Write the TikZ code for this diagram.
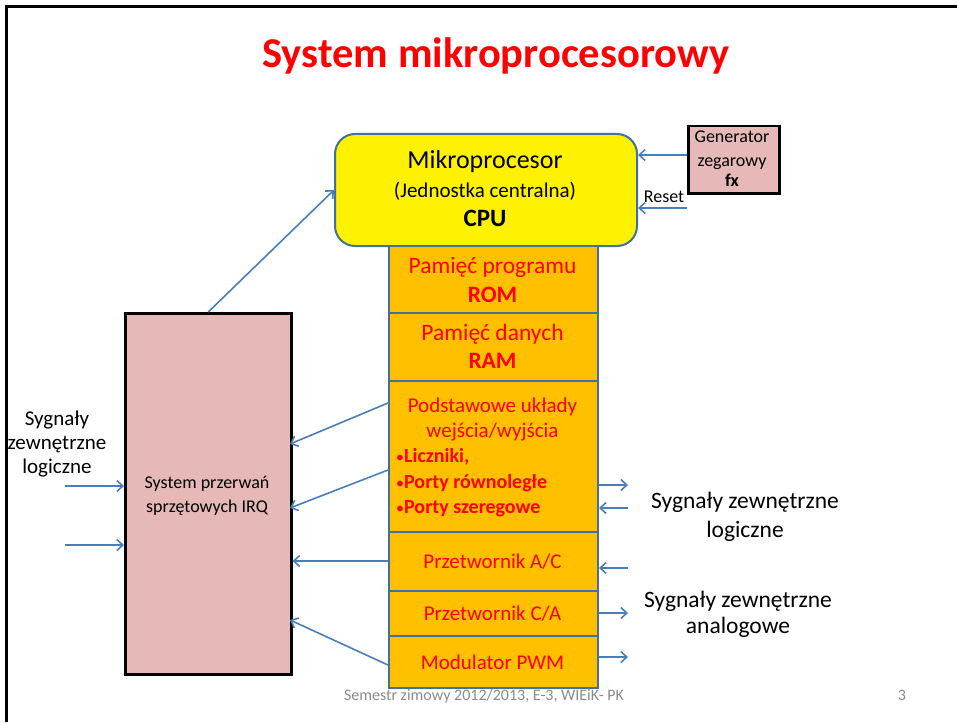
\documentclass[tikz,border=0pt]{standalone}
\usepackage{fontspec}
\setmainfont{Carlito}
\usetikzlibrary{arrows.meta}
\definecolor{orangebox}{HTML}{FFC000}
\definecolor{pinkbox}{HTML}{E6B9B8}
\definecolor{edgeblue}{HTML}{41719C}
\definecolor{arrblue}{HTML}{4A7EBB}
\definecolor{footgray}{HTML}{8B8B8B}
\newcommand{\fs}[1]{\fontsize{#1}{#1}\selectfont}
\begin{document}
\begin{tikzpicture}[x=1pt,y=-1pt,
  arr/.style={draw=arrblue, line width=1.6pt, -{Straight Barb[length=6pt,width=11pt]}},
  colbox/.style={draw=edgeblue, fill=orangebox, line width=2pt, anchor=north west, inner sep=0pt, minimum width=209pt},
  pinkbox/.style={draw=black, fill=pinkbox, line width=2.5pt, anchor=north west, inner sep=0pt},
  txt/.style={anchor=base, inner sep=0pt, align=center},
  redtxt/.style={txt, text=red},
]
\useasboundingbox (0,0) rectangle (957,722);
\fill[white] (0,0) rectangle (957,722);
% frame
\draw[line width=2.5pt] (6.3,722) -- (6.3,6.3) -- (957,6.3);

% title
\node[txt, text=red, font=\fs{42.5}\bfseries] (title) at (496,68) {System mikroprocesorowy};

% CPU
\node[draw=edgeblue, fill=yellow, line width=2pt, rounded corners=20pt, anchor=north west, inner sep=0pt,
      minimum width=302pt, minimum height=112pt] (cpu) at (334,133) {};
\node[txt, font=\fs{26}] (cpu1) at (485,168) {Mikroprocesor};
\node[txt, font=\fs{21}] (cpu2) at (485,197) {(Jednostka centralna)};
\node[txt, font=\fs{25}\bfseries] (cpu3) at (485,226) {CPU};

% column
\node[colbox, minimum height=67pt] (rom) at (388,245) {};
\node[colbox, minimum height=68pt] (ram) at (388,312) {};
\node[colbox, minimum height=151pt] (io) at (388,380) {};
\node[colbox, minimum height=59pt] (ac) at (388,531) {};
\node[colbox, minimum height=45pt] (ca) at (388,590) {};
\node[colbox, minimum height=52pt] (pwm) at (388,635) {};

\node[redtxt, font=\fs{23.5}] (rom1) at (492.5,273) {Pamięć programu};
\node[redtxt, font=\fs{23.5}\bfseries] (rom2) at (492.5,302) {ROM};
\node[redtxt, font=\fs{23.5}] (ram1) at (492.5,340) {Pamięć danych};
\node[redtxt, font=\fs{23.5}\bfseries] (ram2) at (492.5,368) {RAM};
\node[redtxt, font=\fs{21}] (io1) at (492.5,412) {Podstawowe układy};
\node[redtxt, font=\fs{21}] (io2) at (492.5,437) {wejścia/wyjścia};
\node[redtxt, anchor=base west, font=\fs{20}] (io3) at (396,462) {{\fs{16}•}\textbf{Liczniki,}};
\node[redtxt, anchor=base west, font=\fs{20}] (io4) at (396,488) {{\fs{16}•}\textbf{Porty równoległe}};
\node[redtxt, anchor=base west, font=\fs{20}] (io5) at (396,513) {{\fs{16}•}\textbf{Porty szeregowe}};
\node[redtxt, font=\fs{21}] (act) at (492.5,568) {Przetwornik A/C};
\node[redtxt, font=\fs{21}] (cat) at (492.5,620) {Przetwornik C/A};
\node[redtxt, font=\fs{21}] (pwmt) at (492.5,669) {Modulator PWM};

% generator
\node[pinkbox, minimum width=91pt, minimum height=67pt] (gen) at (687,125) {};
\node[txt, font=\fs{18}] (gen1) at (732,143) {Generator};
\node[txt, font=\fs{18}] (gen2) at (732,167) {zegarowy};
\node[txt, font=\fs{18}\bfseries] (gen3) at (732,186) {fx};
\coordinate (clk) at (687,155);
\coordinate (rst) at (687,208);
\draw[arr] (clk) -- (clk -| cpu.east);
\draw[arr] (rst) -- (rst -| cpu.east);
\node[txt, font=\fs{18}] (reset) at (664,202) {Reset};

% IRQ
\node[pinkbox, minimum width=166pt, minimum height=361pt] (irq) at (124,312) {};
\node[txt, font=\fs{18}] (irq1) at (207,488) {System przerwań};
\node[txt, font=\fs{18}] (irq2) at (207,512) {sprzętowych IRQ};
\draw[arr] (irq.north) -- (cpu.west);

% left signals
\node[txt, font=\fs{21}] (l1) at (57,425) {Sygnały};
\node[txt, font=\fs{21}] (l2) at (57,449) {zewnętrzne};
\node[txt, font=\fs{21}] (l3) at (57,473) {logiczne};
\coordinate (in1) at (65,486);
\coordinate (in2) at (65,545);
\draw[arr] (in1) -- (in1 -| irq.west);
\draw[arr] (in2) -- (in2 -| irq.west);

% column -> IRQ
\coordinate (ioa) at (388,403);
\coordinate (iob) at (388,470);
\coordinate (aca) at (388,561);
\coordinate (pwma) at (388,665);
\coordinate (irqa) at (290,444);
\coordinate (irqb) at (290,508);
\coordinate (irqd) at (290,620);
\draw[arr] (ioa) -- (irqa);
\draw[arr] (iob) -- (irqb);
\draw[arr] (aca) -- (aca -| irq.east);
\draw[arr] (pwma) -- (irqd);

% right signals
\coordinate (r1) at (628,485);
\coordinate (r2) at (628,508);
\coordinate (r3) at (628,568);
\coordinate (r4) at (628,613);
\coordinate (r5) at (628,657);
\draw[arr] (r1 -| io.east) -- (r1);
\draw[arr] (r2) -- (r2 -| io.east);
\draw[arr] (r3) -- (r3 -| ac.east);
\draw[arr] (r4 -| ca.east) -- (r4);
\draw[arr] (r5 -| pwm.east) -- (r5);
\node[txt, font=\fs{23.5}] (rl1) at (745,508) {Sygnały zewnętrzne};
\node[txt, font=\fs{23.5}] (rl2) at (745,537) {logiczne};
\node[txt, font=\fs{23.5}] (ra1) at (738,607) {Sygnały zewnętrzne};
\node[txt, font=\fs{23.5}] (ra2) at (738,633) {analogowe};

% footer
\node[txt, text=footgray, font=\fs{16}] (foot) at (484,700) {Semestr zimowy 2012/2013, E-3, WIEiK- PK};
\node[txt, text=footgray, font=\fs{16}] (page) at (902,700) {3};
\end{tikzpicture}
\end{document}
